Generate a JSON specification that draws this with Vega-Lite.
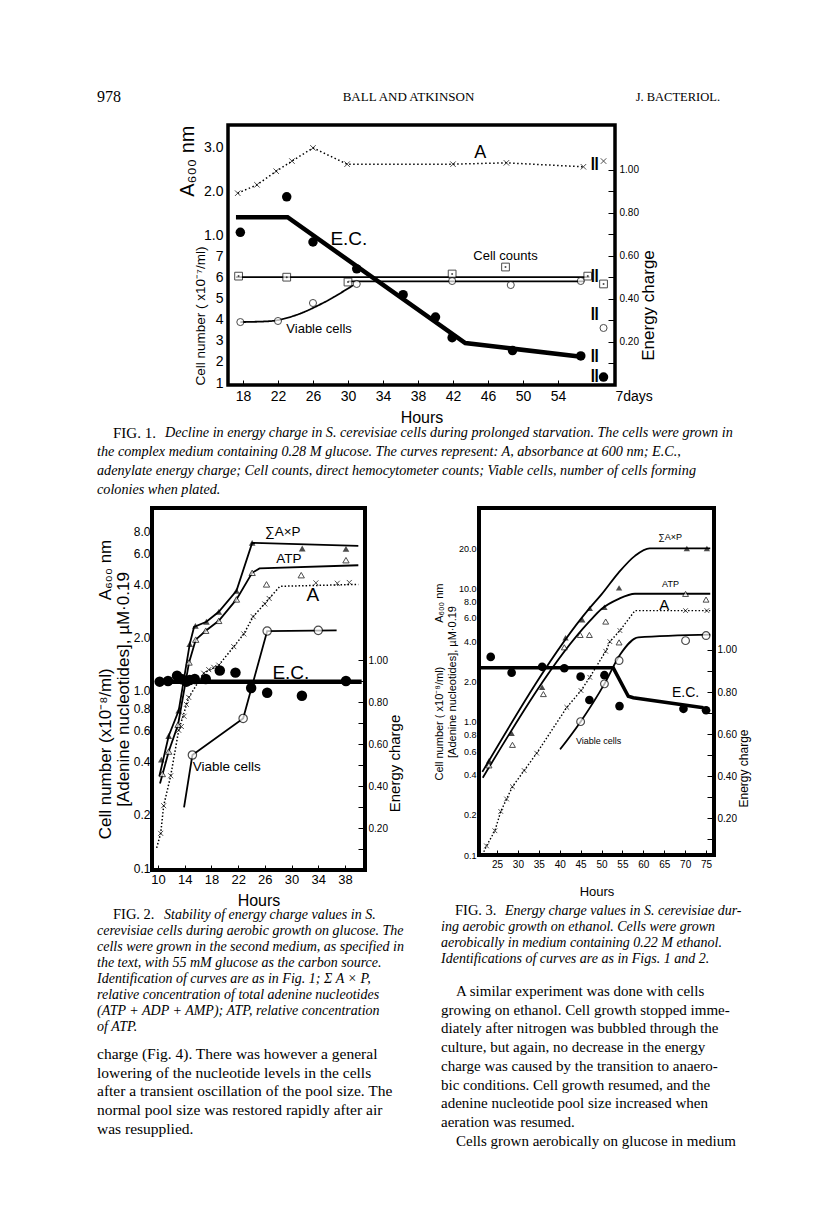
{
"$schema":"https://vega.github.io/schema/vega-lite/v6.json",
"background":"white",
"padding":{"left":94,"top":88,"right":10,"bottom":10},
"config":{"view":{"stroke":null},"font":"Liberation Sans","text":{"color":"black"},
 "axis":{"labelColor":"black","titleColor":"black","tickColor":"black","labelFont":"Liberation Sans","titleFont":"Liberation Sans","titleFontWeight":"normal","grid":false,"domain":false}},
"datasets":{
"header":[{"part":"left","line":0,"text":"978"},{"part":"center","line":0,"text":"BALL AND ATKINSON"},{"part":"right","line":0,"text":"J. BACTERIOL."}],
"cap1":[{"line":0,"kind":"fig","text":"FIG. 1."},{"line":0,"kind":"capfirst","text":"Decline in energy charge in S. cerevisiae cells during prolonged starvation. The cells were grown in"},{"line":1,"kind":"cap","text":"the complex medium containing 0.28 M glucose. The curves represent: A, absorbance at 600 nm; E.C.,"},{"line":2,"kind":"cap","text":"adenylate energy charge; Cell counts, direct hemocytometer counts; Viable cells, number of cells forming"},{"line":3,"kind":"cap","text":"colonies when plated."}],
"capL":[{"line":0,"kind":"fig","text":"FIG. 2."},{"line":0,"kind":"capfirst","text":"Stability of energy charge values in S."},{"line":1,"kind":"cap","text":"cerevisiae cells during aerobic growth on glucose. The"},{"line":2,"kind":"cap","text":"cells were grown in the second medium, as specified in"},{"line":3,"kind":"cap","text":"the text, with 55 mM glucose as the carbon source."},{"line":4,"kind":"cap","text":"Identification of curves are as in Fig. 1; Σ A × P,"},{"line":5,"kind":"cap","text":"relative concentration of total adenine nucleotides"},{"line":6,"kind":"cap","text":"(ATP + ADP + AMP); ATP, relative concentration"},{"line":7,"kind":"cap","text":"of ATP."}],
"bodyL":[{"line":0,"kind":"body","text":"charge (Fig. 4). There was however a general"},{"line":1,"kind":"body","text":"lowering of the nucleotide levels in the cells"},{"line":2,"kind":"body","text":"after a transient oscillation of the pool size. The"},{"line":3,"kind":"body","text":"normal pool size was restored rapidly after air"},{"line":4,"kind":"body","text":"was resupplied."}],
"capR":[{"line":0,"kind":"fig","text":"FIG. 3."},{"line":0,"kind":"capfirst","text":"Energy charge values in S. cerevisiae dur-"},{"line":1,"kind":"cap","text":"ing aerobic growth on ethanol. Cells were grown"},{"line":2,"kind":"cap","text":"aerobically in medium containing 0.22 M ethanol."},{"line":3,"kind":"cap","text":"Identifications of curves are as in Figs. 1 and 2."}],
"bodyR":[{"line":0,"kind":"indent","text":"A similar experiment was done with cells"},{"line":1,"kind":"body","text":"growing on ethanol. Cell growth stopped imme-"},{"line":2,"kind":"body","text":"diately after nitrogen was bubbled through the"},{"line":3,"kind":"body","text":"culture, but again, no decrease in the energy"},{"line":4,"kind":"body","text":"charge was caused by the transition to anaero-"},{"line":5,"kind":"body","text":"bic conditions. Cell growth resumed, and the"},{"line":6,"kind":"body","text":"adenine nucleotide pool size increased when"},{"line":7,"kind":"body","text":"aeration was resumed."},{"line":8,"kind":"indent","text":"Cells grown aerobically on glucose in medium"}],
"f1":[
{"series":"A","hour":17.4,"value":1.95},{"series":"A","hour":19.6,"value":2.14},{"series":"A","hour":21.8,"value":2.45},{"series":"A","hour":23.6,"value":2.68},{"series":"A","hour":26.0,"value":2.98},{"series":"A","hour":29.9,"value":2.61},{"series":"A","hour":42.0,"value":2.61},{"series":"A","hour":48.1,"value":2.64},{"series":"A","hour":56.9,"value":2.55},{"series":"A","hour":59.2,"value":2.68},
{"series":"EC","hour":17.7,"value":0.71},{"series":"EC","hour":23.0,"value":0.875},{"series":"EC","hour":26.0,"value":0.665},{"series":"EC","hour":31.0,"value":0.54},{"series":"EC","hour":36.3,"value":0.42},{"series":"EC","hour":40.0,"value":0.316},{"series":"EC","hour":41.9,"value":0.22},{"series":"EC","hour":48.8,"value":0.16},{"series":"EC","hour":56.6,"value":0.135},{"series":"EC","hour":59.2,"value":0.037},
{"series":"Cell counts","hour":17.5,"value":6.05},{"series":"Cell counts","hour":23.0,"value":6.0},{"series":"Cell counts","hour":30.0,"value":5.77},{"series":"Cell counts","hour":41.9,"value":6.15},{"series":"Cell counts","hour":48.0,"value":6.48},{"series":"Cell counts","hour":57.4,"value":6.05},{"series":"Cell counts","hour":59.2,"value":5.68},
{"series":"Viable cells","hour":17.7,"value":3.88},{"series":"Viable cells","hour":22.0,"value":3.93},{"series":"Viable cells","hour":26.0,"value":4.78},{"series":"Viable cells","hour":31.0,"value":5.68},{"series":"Viable cells","hour":41.9,"value":5.82},{"series":"Viable cells","hour":48.6,"value":5.63},{"series":"Viable cells","hour":56.6,"value":5.82},{"series":"Viable cells","hour":59.2,"value":3.6}],
"f1fit":[
{"series":"EC","seg":1,"hour":17.2,"value":0.78},{"series":"EC","seg":1,"hour":23.1,"value":0.78},{"series":"EC","seg":1,"hour":43.4,"value":0.195},{"series":"EC","seg":1,"hour":56.9,"value":0.13},
{"series":"Cell counts","seg":1,"hour":17.2,"value":6.0},{"series":"Cell counts","seg":1,"hour":57.6,"value":6.0},
{"series":"Viable cells","seg":1,"hour":17.7,"value":3.88},{"series":"Viable cells","seg":1,"hour":21.0,"value":3.92},{"series":"Viable cells","seg":1,"hour":24.0,"value":4.2},{"series":"Viable cells","seg":1,"hour":27.0,"value":4.75},{"series":"Viable cells","seg":1,"hour":30.6,"value":5.62},
{"series":"Viable cells","seg":2,"hour":30.0,"value":5.8},{"series":"Viable cells","seg":2,"hour":57.0,"value":5.8}],
"f1lab":[{"scale":"A","text":"A","hour":45.1,"value":2.86},{"scale":"EC","text":"E.C.","hour":30.1,"value":0.68},{"scale":"cell","text":"Cell counts","hour":48.0,"value":7.0},{"scale":"cell","text":"Viable cells","hour":26.7,"value":3.55}],
"f1brk":[{"scale":"A","text":"‖","hour":58.2,"value":2.6},{"scale":"cell","text":"‖","hour":58.2,"value":6.0},{"scale":"cell","text":"‖","hour":58.2,"value":4.2},{"scale":"EC","text":"‖","hour":58.2,"value":0.13},{"scale":"EC","text":"‖","hour":58.2,"value":0.035}],
"f2":[
{"series":"SumAxP","hour":10.5,"value":0.41},{"series":"SumAxP","hour":11.6,"value":0.557},{"series":"SumAxP","hour":13.1,"value":0.775},{"series":"SumAxP","hour":14.75,"value":1.84},{"series":"SumAxP","hour":15.6,"value":2.33},{"series":"SumAxP","hour":17.25,"value":2.46},{"series":"SumAxP","hour":19.1,"value":2.8},{"series":"SumAxP","hour":21.75,"value":3.68},{"series":"SumAxP","hour":24.1,"value":6.86},{"series":"SumAxP","hour":31.6,"value":6.38},{"series":"SumAxP","hour":38.15,"value":6.35},
{"series":"ATP","hour":10.65,"value":0.34},{"series":"ATP","hour":11.6,"value":0.455},{"series":"ATP","hour":13.0,"value":0.645},{"series":"ATP","hour":14.65,"value":1.45},{"series":"ATP","hour":15.65,"value":1.95},{"series":"ATP","hour":17.15,"value":2.19},{"series":"ATP","hour":19.1,"value":2.49},{"series":"ATP","hour":21.75,"value":3.29},{"series":"ATP","hour":24.1,"value":4.65},{"series":"ATP","hour":26.25,"value":4.0},{"series":"ATP","hour":31.45,"value":4.51},{"series":"ATP","hour":38.15,"value":5.48},
{"series":"A","hour":10.4,"value":0.157},{"series":"A","hour":10.85,"value":0.225},{"series":"A","hour":11.9,"value":0.332},{"series":"A","hour":13.1,"value":0.6},{"series":"A","hour":13.5,"value":0.63},{"series":"A","hour":13.9,"value":0.72},{"series":"A","hour":14.25,"value":0.84},{"series":"A","hour":14.6,"value":0.92},{"series":"A","hour":16.85,"value":1.26},{"series":"A","hour":17.6,"value":1.32},{"series":"A","hour":18.35,"value":1.36},{"series":"A","hour":19.1,"value":1.4},{"series":"A","hour":21.35,"value":1.78},{"series":"A","hour":22.85,"value":2.1},{"series":"A","hour":24.25,"value":2.63},{"series":"A","hour":26.0,"value":3.1},{"series":"A","hour":26.65,"value":3.33},{"series":"A","hour":33.65,"value":4.08},{"series":"A","hour":36.85,"value":4.06},{"series":"A","hour":38.65,"value":4.1},
{"series":"Viable","hour":15.15,"value":0.435},{"series":"Viable","hour":22.75,"value":0.7},{"series":"Viable","hour":26.35,"value":2.18},{"series":"Viable","hour":34.0,"value":2.2},
{"series":"EC","hour":10.25,"value":0.897},{"series":"EC","hour":11.5,"value":0.9},{"series":"EC","hour":12.85,"value":0.925},{"series":"EC","hour":13.65,"value":0.908},{"series":"EC","hour":14.25,"value":0.897},{"series":"EC","hour":14.75,"value":0.905},{"series":"EC","hour":15.5,"value":0.91},{"series":"EC","hour":17.15,"value":0.91},{"series":"EC","hour":19.25,"value":0.95},{"series":"EC","hour":21.6,"value":0.94},{"series":"EC","hour":23.95,"value":0.867},{"series":"EC","hour":26.35,"value":0.844},{"series":"EC","hour":31.55,"value":0.83},{"series":"EC","hour":38.15,"value":0.9}],
"f2fit":[
{"series":"SumAxP","hour":10.2,"value":0.33},{"series":"SumAxP","hour":11.6,"value":0.557},{"series":"SumAxP","hour":13.1,"value":0.775},{"series":"SumAxP","hour":14.75,"value":1.84},{"series":"SumAxP","hour":15.4,"value":2.3},{"series":"SumAxP","hour":17.25,"value":2.46},{"series":"SumAxP","hour":19.1,"value":2.8},{"series":"SumAxP","hour":21.75,"value":3.68},{"series":"SumAxP","hour":24.1,"value":6.86},{"series":"SumAxP","hour":40.0,"value":6.6},
{"series":"ATP","hour":10.3,"value":0.3},{"series":"ATP","hour":11.6,"value":0.455},{"series":"ATP","hour":13.0,"value":0.645},{"series":"ATP","hour":14.65,"value":1.45},{"series":"ATP","hour":15.65,"value":1.95},{"series":"ATP","hour":17.15,"value":2.19},{"series":"ATP","hour":19.1,"value":2.49},{"series":"ATP","hour":21.75,"value":3.29},{"series":"ATP","hour":24.1,"value":4.65},{"series":"ATP","hour":25.2,"value":4.92},{"series":"ATP","hour":40.0,"value":5.13},
{"series":"A","hour":9.8,"value":0.13},{"series":"A","hour":10.4,"value":0.157},{"series":"A","hour":10.85,"value":0.225},{"series":"A","hour":11.9,"value":0.332},{"series":"A","hour":13.1,"value":0.6},{"series":"A","hour":14.6,"value":0.92},{"series":"A","hour":16.85,"value":1.26},{"series":"A","hour":19.1,"value":1.4},{"series":"A","hour":21.35,"value":1.78},{"series":"A","hour":22.85,"value":2.1},{"series":"A","hour":24.25,"value":2.63},{"series":"A","hour":26.65,"value":3.33},{"series":"A","hour":28.25,"value":3.9},{"series":"A","hour":40.0,"value":4.0},
{"series":"Viable","hour":13.9,"value":0.22},{"series":"Viable","hour":15.15,"value":0.435},{"series":"Viable","hour":22.75,"value":0.7},{"series":"Viable","hour":26.35,"value":2.18},{"series":"Viable","hour":36.75,"value":2.2},
{"series":"EC","hour":9.75,"value":0.897},{"series":"EC","hour":40.5,"value":0.897}],
"f2lab":[{"scale":"log","text":"∑A×P","hour":28.7,"value":7.95},{"scale":"log","text":"ATP","hour":29.6,"value":5.55},{"scale":"log","text":"A","hour":33.2,"value":3.49},{"scale":"log","text":"Viable cells","hour":20.3,"value":0.374},{"scale":"EC","text":"E.C.","hour":29.9,"value":0.937}],
"f3":[
{"series":"SumAxP","hour":23.1,"value":0.51},{"series":"SumAxP","hour":28.5,"value":0.817},{"series":"SumAxP","hour":35.8,"value":1.81},{"series":"SumAxP","hour":41.4,"value":4.25},{"series":"SumAxP","hour":45.4,"value":5.82},{"series":"SumAxP","hour":47.2,"value":7.07},{"series":"SumAxP","hour":50.7,"value":7.2},{"series":"SumAxP","hour":54.2,"value":10.07},{"series":"SumAxP","hour":70.4,"value":19.9},{"series":"SumAxP","hour":75.2,"value":19.9},
{"series":"ATP","hour":23.1,"value":0.47},{"series":"ATP","hour":28.7,"value":0.67},{"series":"ATP","hour":36.1,"value":1.61},{"series":"ATP","hour":41.1,"value":3.61},{"series":"ATP","hour":44.9,"value":4.47},{"series":"ATP","hour":47.1,"value":4.47},{"series":"ATP","hour":51.0,"value":5.63},{"series":"ATP","hour":54.2,"value":3.93},{"series":"ATP","hour":70.1,"value":9.08},{"series":"ATP","hour":75.0,"value":8.23},
{"series":"A","hour":22.5,"value":0.117},{"series":"A","hour":24.5,"value":0.152},{"series":"A","hour":25.9,"value":0.212},{"series":"A","hour":27.3,"value":0.263},{"series":"A","hour":28.7,"value":0.325},{"series":"A","hour":31.5,"value":0.43},{"series":"A","hour":34.5,"value":0.58},{"series":"A","hour":41.7,"value":1.28},{"series":"A","hour":45.1,"value":1.71},{"series":"A","hour":47.2,"value":2.15},{"series":"A","hour":51.0,"value":3.37},{"series":"A","hour":52.0,"value":3.98},{"series":"A","hour":54.4,"value":4.82},{"series":"A","hour":70.1,"value":6.8},{"series":"A","hour":75.2,"value":6.8},
{"series":"Viable","hour":45.0,"value":1.0},{"series":"Viable","hour":50.7,"value":1.92},{"series":"Viable","hour":54.2,"value":2.87},{"series":"Viable","hour":70.1,"value":4.05},{"series":"Viable","hour":75.0,"value":4.42},
{"series":"EC","hour":23.5,"value":0.967},{"series":"EC","hour":28.5,"value":0.892},{"series":"EC","hour":35.8,"value":0.92},{"series":"EC","hour":41.1,"value":0.913},{"series":"EC","hour":45.0,"value":0.873},{"series":"EC","hour":47.1,"value":0.762},{"series":"EC","hour":50.7,"value":0.88},{"series":"EC","hour":54.3,"value":0.733},{"series":"EC","hour":69.6,"value":0.72},{"series":"EC","hour":75.0,"value":0.713}],
"f3fit":[
{"series":"SumAxP","hour":21.5,"value":0.42},{"series":"SumAxP","hour":47.0,"value":7.0},{"series":"SumAxP","hour":50.0,"value":9.0},{"series":"SumAxP","hour":54.0,"value":13.0},{"series":"SumAxP","hour":58.0,"value":17.5},{"series":"SumAxP","hour":61.5,"value":19.9},{"series":"SumAxP","hour":76.0,"value":19.9},
{"series":"ATP","hour":21.6,"value":0.38},{"series":"ATP","hour":47.0,"value":5.6},{"series":"ATP","hour":50.0,"value":7.0},{"series":"ATP","hour":54.0,"value":8.3},{"series":"ATP","hour":58.0,"value":9.1},{"series":"ATP","hour":76.0,"value":9.1},
{"series":"A","hour":21.5,"value":0.1},{"series":"A","hour":22.5,"value":0.117},{"series":"A","hour":24.5,"value":0.152},{"series":"A","hour":25.9,"value":0.212},{"series":"A","hour":27.3,"value":0.263},{"series":"A","hour":28.7,"value":0.325},{"series":"A","hour":31.5,"value":0.43},{"series":"A","hour":34.5,"value":0.58},{"series":"A","hour":41.7,"value":1.28},{"series":"A","hour":45.1,"value":1.71},{"series":"A","hour":47.2,"value":2.15},{"series":"A","hour":51.0,"value":3.37},{"series":"A","hour":52.0,"value":3.98},{"series":"A","hour":54.4,"value":4.82},{"series":"A","hour":58.0,"value":6.8},{"series":"A","hour":76.0,"value":6.8},
{"series":"Viable","hour":40.1,"value":0.62},{"series":"Viable","hour":45.0,"value":1.0},{"series":"Viable","hour":50.7,"value":1.92},{"series":"Viable","hour":54.5,"value":3.2},{"series":"Viable","hour":58.8,"value":4.29},{"series":"Viable","hour":76.0,"value":4.5},
{"series":"EC","hour":20.8,"value":0.915},{"series":"EC","hour":52.8,"value":0.915},{"series":"EC","hour":56.4,"value":0.78},{"series":"EC","hour":57.6,"value":0.773},{"series":"EC","hour":74.4,"value":0.725}],
"f3lab":[{"scale":"log","text":"∑A×P","hour":66.4,"value":24.1},{"scale":"log","text":"ATP","hour":66.5,"value":10.8},{"scale":"log","text":"A","hour":65.0,"value":7.55},{"scale":"log","text":"Viable cells","hour":49.3,"value":0.72},{"scale":"EC","text":"E.C.","hour":70.1,"value":0.794}]
},
"bounds":"flush",
"spacing":0,
"vconcat":[
{"width":623,"height":37,"data":{"name":"header"},
 "encoding":{"y":{"field":"line","type":"quantitative","scale":{"domain":[-0.5,1.556],"reverse":true,"nice":false,"zero":false},"axis":null},"text":{"field":"text"}},
 "layer":[
  {"transform":[{"filter":"datum.part == 'left'"}],"mark":{"type":"text","align":"left","baseline":"middle","font":"Liberation Serif","fontSize":16},"encoding":{"x":{"datum":0,"type":"quantitative","scale":{"domain":[0,1]},"axis":null}}},
  {"transform":[{"filter":"datum.part == 'center'"}],"mark":{"type":"text","align":"center","baseline":"middle","font":"Liberation Serif","fontSize":13},"encoding":{"x":{"datum":0.5,"type":"quantitative","scale":{"domain":[0,1]},"axis":null}}},
  {"transform":[{"filter":"datum.part == 'right'"}],"mark":{"type":"text","align":"right","baseline":"middle","font":"Liberation Serif","fontSize":12.5},"encoding":{"x":{"datum":1,"type":"quantitative","scale":{"domain":[0,1]},"axis":null}}}
 ]},
{"hconcat":[
 {"width":131,"height":260,"data":{"values":[{"k":1}]},"mark":{"type":"text"},"encoding":{"text":{"value":""}}},
 {"width":387,"height":260,"view":{"stroke":"black","strokeWidth":3.5},
  "encoding":{"x":{"field":"hour","type":"quantitative","scale":{"domain":[16.29,60.51],"nice":false,"zero":false},
    "axis":{"values":[18,22,26,30,34,38,42,46,50,54,60.5],"labelExpr":"datum.value > 58 ? '7days' : datum.label","labelAlign":{"condition":{"test":"datum.value > 58","value":"left"},"value":"center"},"title":"Hours","titleFontSize":16,"titlePadding":6,"labelFontSize":14,"tickSize":-5,"labelPadding":9}}},
  "layer":[
   {"encoding":{"y":{"field":"value","type":"quantitative","scale":{"domain":[-2.409,3.5],"nice":false,"zero":false},"axis":{"orient":"left","values":[1,2,3],"format":".1f","ticks":false,"labelPadding":5,"labelFontSize":14,"title":"A₆₀₀ nm","titleFontSize":20,"titleAnchor":"end","titlePadding":6}}},
    "layer":[
     {"data":{"name":"f1"},"transform":[{"filter":"datum.series == 'A' && datum.hour < 58"}],"mark":{"type":"line","color":"black","strokeWidth":1.5,"strokeDash":[1.5,2.5]},"encoding":{}},
     {"data":{"name":"f1"},"transform":[{"filter":"datum.series == 'A'"}],"mark":{"type":"point","shape":"M-1,-1L1,1M-1,1L1,-1","size":30,"color":"black","filled":false,"strokeWidth":1}},
     {"data":{"name":"f1lab"},"transform":[{"filter":"datum.scale == 'A'"}],"mark":{"type":"text","fontSize":18,"baseline":"middle"},"encoding":{"text":{"field":"text"}}},
     {"data":{"name":"f1brk"},"transform":[{"filter":"datum.scale == 'A'"}],"mark":{"type":"text","fontSize":18,"fontWeight":"bold","baseline":"middle"},"encoding":{"text":{"field":"text"}}}
    ]},
   {"encoding":{"y":{"field":"value","type":"quantitative","scale":{"domain":[0.906,13.19],"nice":false,"zero":false},"axis":{"orient":"left","values":[1,2,3,4,5,6,7],"format":"d","ticks":false,"labelPadding":5,"labelFontSize":14,"title":"Cell number ( x10⁻⁷/ml)","titleFontSize":13.5,"titleAnchor":"start","titlePadding":8}}},
    "layer":[
     {"data":{"name":"f1fit"},"transform":[{"filter":"datum.series == 'Cell counts' || datum.series == 'Viable cells'"}],"mark":{"type":"line","color":"black","strokeWidth":1.8,"interpolate":"monotone"},"encoding":{"detail":{"field":"series"},"strokeDash":{"field":"seg","legend":null,"scale":{"range":[[1,0],[1,0]]}}}},
     {"data":{"name":"f1"},"transform":[{"filter":"datum.series == 'Cell counts'"}],"mark":{"type":"point","shape":"square","size":60,"color":"black","filled":true,"fill":"white","stroke":"black","strokeWidth":1}},
     {"data":{"name":"f1"},"transform":[{"filter":"datum.series == 'Cell counts'"}],"mark":{"type":"point","shape":"circle","size":4,"color":"black","filled":true}},
     {"data":{"name":"f1"},"transform":[{"filter":"datum.series == 'Viable cells'"}],"mark":{"type":"point","shape":"circle","size":50,"color":"black","filled":true,"fill":"white","stroke":"black","strokeWidth":1}},
     {"data":{"name":"f1lab"},"transform":[{"filter":"datum.scale == 'cell'"}],"mark":{"type":"text","fontSize":13,"baseline":"middle"},"encoding":{"text":{"field":"text"}}},
     {"data":{"name":"f1brk"},"transform":[{"filter":"datum.scale == 'cell'"}],"mark":{"type":"text","fontSize":18,"fontWeight":"bold","baseline":"middle"},"encoding":{"text":{"field":"text"}}}
    ]},
   {"encoding":{"y":{"field":"value","type":"quantitative","scale":{"domain":[0,1.209],"nice":false,"zero":false},"axis":{"orient":"right","values":[0.1,0.2,0.3,0.4,0.5,0.6,0.7,0.8,0.9,1.0],"labelExpr":"round(datum.value*10) % 2 == 0 ? format(datum.value, '.2f') : ''","tickSize":-7,"labelPadding":11,"labelFontSize":10,"title":"Energy charge","titleFontSize":17,"titleAngle":270,"titleBaseline":"top","titleY":180,"titlePadding":2}}},
    "layer":[
     {"data":{"name":"f1fit"},"transform":[{"filter":"datum.series == 'EC'"}],"mark":{"type":"line","color":"black","strokeWidth":4.5},"encoding":{}},
     {"data":{"name":"f1"},"transform":[{"filter":"datum.series == 'EC'"}],"mark":{"type":"point","shape":"circle","size":90,"color":"black","filled":true,"opacity":1}},
     {"data":{"name":"f1lab"},"transform":[{"filter":"datum.scale == 'EC'"}],"mark":{"type":"text","fontSize":19,"baseline":"middle"},"encoding":{"text":{"field":"text"}}},
     {"data":{"name":"f1brk"},"transform":[{"filter":"datum.scale == 'EC'"}],"mark":{"type":"text","fontSize":18,"fontWeight":"bold","baseline":"middle"},"encoding":{"text":{"field":"text"}}}
    ]}
  ],
  "resolve":{"scale":{"y":"independent"},"axis":{"y":"independent"}}}
 ],"spacing":0,"bounds":"flush"},
{"width":1,"height":298.5,"data":{"values":[{"k":1}]},"mark":{"type":"text"},"encoding":{"text":{"value":""}}},
{"width":623,"height":83.5,"data":{"name":"cap1"},
 "encoding":{"x":{"datum":0,"type":"quantitative","scale":{"domain":[0,1]},"axis":null},"y":{"field":"line","type":"quantitative","scale":{"domain":[-0.5,3.895],"reverse":true,"nice":false,"zero":false},"axis":null},"text":{"field":"text"}},
 "layer":[
  {"transform":[{"filter":"datum.kind == 'fig'"}],"mark":{"type":"text","align":"left","baseline":"middle","font":"Liberation Serif","fontSize":15,"dx":16}},
  {"transform":[{"filter":"datum.kind == 'capfirst'"}],"mark":{"type":"text","align":"left","baseline":"middle","font":"Liberation Serif","fontStyle":"italic","fontSize":14.2,"dx":68}},
  {"transform":[{"filter":"datum.kind == 'cap'"}],"mark":{"type":"text","align":"left","baseline":"middle","font":"Liberation Serif","fontStyle":"italic","fontSize":14.2}}
 ]},
{"hconcat":[
 {"width":55,"height":362,"data":{"values":[{"k":1}]},"mark":{"type":"text"},"encoding":{"text":{"value":""}}},
 {"width":213,"height":362,"view":{"stroke":"black","strokeWidth":4},
  "encoding":{"x":{"field":"hour","type":"quantitative","scale":{"domain":[9.1,41.0],"nice":false,"zero":false},"axis":{"values":[10,14,18,22,26,30,34,38],"title":"Hours","titleFontSize":16,"titlePadding":6,"labelFontSize":13,"tickSize":-5,"labelPadding":8}}},
  "layer":[
   {"encoding":{"y":{"field":"value","type":"quantitative","scale":{"type":"log","domain":[0.0975,10.8],"nice":false},"axis":{"orient":"left","values":[0.1,0.2,0.4,0.6,0.8,1,2,4,6,8],"format":".1f","labelFontSize":12,"ticks":false,"labelPadding":2,"title":["Cell number (x10⁻⁸/ml)\u2003\u2003\u2003\u2003A₆₀₀ nm","[Adenine nucleotides], µM·0.19"],"titleFontSize":17,"titleLineHeight":18,"titlePadding":1}}},
    "layer":[
     {"data":{"name":"f2fit"},"transform":[{"filter":"datum.series == 'SumAxP' || datum.series == 'ATP' || datum.series == 'Viable'"}],"mark":{"type":"line","color":"black","strokeWidth":1.8},"encoding":{"detail":{"field":"series"}}},
     {"data":{"name":"f2fit"},"transform":[{"filter":"datum.series == 'A'"}],"mark":{"type":"line","color":"black","strokeWidth":1.5,"strokeDash":[1.5,2]},"encoding":{}},
     {"data":{"name":"f2"},"transform":[{"filter":"datum.series == 'SumAxP'"}],"mark":{"type":"point","shape":"triangle-up","size":45,"color":"black","filled":true}},
     {"data":{"name":"f2"},"transform":[{"filter":"datum.series == 'ATP'"}],"mark":{"type":"point","shape":"triangle-up","size":40,"color":"black","filled":true,"fill":"white","stroke":"black","strokeWidth":1}},
     {"data":{"name":"f2"},"transform":[{"filter":"datum.series == 'A'"}],"mark":{"type":"point","shape":"M-1,-1L1,1M-1,1L1,-1","size":25,"color":"black","filled":false,"strokeWidth":1}},
     {"data":{"name":"f2"},"transform":[{"filter":"datum.series == 'Viable'"}],"mark":{"type":"point","shape":"circle","size":70,"color":"black","filled":true,"fill":"white","stroke":"black","strokeWidth":1.2}},
     {"data":{"name":"f2lab"},"transform":[{"filter":"datum.scale == 'log' && datum.text == 'A'"}],"mark":{"type":"text","fontSize":19,"baseline":"middle"},"encoding":{"text":{"field":"text"}}},
     {"data":{"name":"f2lab"},"transform":[{"filter":"datum.scale == 'log' && datum.text != 'A'"}],"mark":{"type":"text","fontSize":13.5,"baseline":"middle"},"encoding":{"text":{"field":"text"}}}
    ]},
   {"encoding":{"y":{"field":"value","type":"quantitative","scale":{"domain":[0,1.724],"nice":false,"zero":false},"axis":{"orient":"right","values":[0.1,0.2,0.3,0.4,0.5,0.6,0.7,0.8,0.9,1.0],"labelExpr":"round(datum.value*10) % 2 == 0 ? format(datum.value, '.2f') : ''","tickSize":-7,"labelPadding":10,"labelFontSize":10,"title":"Energy charge","titleFontSize":15,"titleAngle":270,"titleBaseline":"top","titleY":255,"titlePadding":0}}},
    "layer":[
     {"data":{"name":"f2fit"},"transform":[{"filter":"datum.series == 'EC'"}],"mark":{"type":"line","color":"black","strokeWidth":4.5},"encoding":{}},
     {"data":{"name":"f2"},"transform":[{"filter":"datum.series == 'EC'"}],"mark":{"type":"point","shape":"circle","size":110,"color":"black","filled":true,"opacity":1}},
     {"data":{"name":"f2lab"},"transform":[{"filter":"datum.scale == 'EC'"}],"mark":{"type":"text","fontSize":19,"baseline":"middle"},"encoding":{"text":{"field":"text"}}}
    ]}
  ],
  "resolve":{"scale":{"y":"independent"},"axis":{"y":"independent"}}},
 {"width":114,"height":1,"data":{"values":[{"k":1}]},"mark":{"type":"text"},"encoding":{"text":{"value":""}}},
 {"width":235,"height":347,"view":{"stroke":"black","strokeWidth":4},
  "encoding":{"x":{"field":"hour","type":"quantitative","scale":{"domain":[20.7,76.9],"nice":false,"zero":false},"axis":{"values":[25,30,35,40,45,50,55,60,65,70,75],"title":"Hours","titleFontSize":13,"titlePadding":16,"labelFontSize":10,"tickSize":-5,"labelPadding":9}}},
  "layer":[
   {"encoding":{"y":{"field":"value","type":"quantitative","scale":{"type":"log","domain":[0.1,40],"nice":false},"axis":{"orient":"left","values":[0.1,0.2,0.4,0.6,0.8,1,2,4,6,8,10,20],"format":".1f","labelFontSize":9,"ticks":false,"labelPadding":3,"title":["Cell number ( x10⁻⁸/ml)\u2003\u2003\u2003\u2003A₆₀₀ nm","[Adenine nucleotides], µM·0.19"],"titleFontSize":11,"titleLineHeight":13,"titlePadding":1}}},
    "layer":[
     {"data":{"name":"f3fit"},"transform":[{"filter":"datum.series == 'SumAxP' || datum.series == 'ATP' || datum.series == 'Viable'"}],"mark":{"type":"line","color":"black","strokeWidth":1.8,"interpolate":"monotone"},"encoding":{"detail":{"field":"series"}}},
     {"data":{"name":"f3fit"},"transform":[{"filter":"datum.series == 'A'"}],"mark":{"type":"line","color":"black","strokeWidth":1.4,"strokeDash":[1.5,2]},"encoding":{}},
     {"data":{"name":"f3"},"transform":[{"filter":"datum.series == 'SumAxP'"}],"mark":{"type":"point","shape":"triangle-up","size":40,"color":"black","filled":true}},
     {"data":{"name":"f3"},"transform":[{"filter":"datum.series == 'ATP'"}],"mark":{"type":"point","shape":"triangle-up","size":35,"color":"black","filled":true,"fill":"white","stroke":"black","strokeWidth":1}},
     {"data":{"name":"f3"},"transform":[{"filter":"datum.series == 'A'"}],"mark":{"type":"point","shape":"M-1,-1L1,1M-1,1L1,-1","size":22,"color":"black","filled":false,"strokeWidth":1}},
     {"data":{"name":"f3"},"transform":[{"filter":"datum.series == 'Viable'"}],"mark":{"type":"point","shape":"circle","size":60,"color":"black","filled":true,"fill":"white","stroke":"black","strokeWidth":1.2}},
     {"data":{"name":"f3lab"},"transform":[{"filter":"datum.scale == 'log' && datum.text == 'A'"}],"mark":{"type":"text","fontSize":15,"baseline":"middle"},"encoding":{"text":{"field":"text"}}},
     {"data":{"name":"f3lab"},"transform":[{"filter":"datum.scale == 'log' && datum.text != 'A'"}],"mark":{"type":"text","fontSize":9,"baseline":"middle"},"encoding":{"text":{"field":"text"}}}
    ]},
   {"encoding":{"y":{"field":"value","type":"quantitative","scale":{"domain":[0.024,1.676],"nice":false,"zero":false},"axis":{"orient":"right","values":[0.1,0.2,0.3,0.4,0.5,0.6,0.7,0.8,0.9,1.0],"labelExpr":"round(datum.value*10) % 2 == 0 ? format(datum.value, '.2f') : ''","tickSize":-7,"labelPadding":10,"labelFontSize":10,"title":"Energy charge","titleFontSize":12,"titleAngle":270,"titleBaseline":"top","titleY":260,"titlePadding":2}}},
    "layer":[
     {"data":{"name":"f3fit"},"transform":[{"filter":"datum.series == 'EC'"}],"mark":{"type":"line","color":"black","strokeWidth":3.5},"encoding":{}},
     {"data":{"name":"f3"},"transform":[{"filter":"datum.series == 'EC'"}],"mark":{"type":"point","shape":"circle","size":75,"color":"black","filled":true,"opacity":1}},
     {"data":{"name":"f3lab"},"transform":[{"filter":"datum.scale == 'EC'"}],"mark":{"type":"text","fontSize":14,"baseline":"middle"},"encoding":{"text":{"field":"text"}}}
    ]}
  ],
  "resolve":{"scale":{"y":"independent"},"axis":{"y":"independent"}}}
 ],"spacing":0,"bounds":"flush"},
{"width":1,"height":394.9,"data":{"values":[{"k":1}]},"mark":{"type":"text"},"encoding":{"text":{"value":""}}},
{"hconcat":[
 {"width":303,"height":130,"data":{"name":"capL"},
  "encoding":{"x":{"datum":0,"type":"quantitative","scale":{"domain":[0,1]},"axis":null},"y":{"field":"line","type":"quantitative","scale":{"domain":[-0.756,7.369],"reverse":true,"nice":false,"zero":false},"axis":null},"text":{"field":"text"}},
  "layer":[
   {"transform":[{"filter":"datum.kind == 'fig'"}],"mark":{"type":"text","align":"left","baseline":"middle","font":"Liberation Serif","fontSize":14.5,"dx":16}},
   {"transform":[{"filter":"datum.kind == 'capfirst'"}],"mark":{"type":"text","align":"left","baseline":"middle","font":"Liberation Serif","fontStyle":"italic","fontSize":14,"dx":67}},
   {"transform":[{"filter":"datum.kind == 'cap'"}],"mark":{"type":"text","align":"left","baseline":"middle","font":"Liberation Serif","fontStyle":"italic","fontSize":14}}
  ]},
 {"width":41,"height":1,"data":{"values":[{"k":1}]},"mark":{"type":"text"},"encoding":{"text":{"value":""}}},
 {"width":279,"height":130,"data":{"name":"capR"},
  "encoding":{"x":{"datum":0,"type":"quantitative","scale":{"domain":[0,1]},"axis":null},"y":{"field":"line","type":"quantitative","scale":{"domain":[-0.506,7.619],"reverse":true,"nice":false,"zero":false},"axis":null},"text":{"field":"text"}},
  "layer":[
   {"transform":[{"filter":"datum.kind == 'fig'"}],"mark":{"type":"text","align":"left","baseline":"middle","font":"Liberation Serif","fontSize":14.5,"dx":14}},
   {"transform":[{"filter":"datum.kind == 'capfirst'"}],"mark":{"type":"text","align":"left","baseline":"middle","font":"Liberation Serif","fontStyle":"italic","fontSize":14,"dx":64}},
   {"transform":[{"filter":"datum.kind == 'cap'"}],"mark":{"type":"text","align":"left","baseline":"middle","font":"Liberation Serif","fontStyle":"italic","fontSize":14}}
  ]}
 ],"spacing":0,"bounds":"flush"},
{"width":1,"height":73.1,"data":{"values":[{"k":1}]},"mark":{"type":"text"},"encoding":{"text":{"value":""}}},
{"hconcat":[
 {"width":303,"height":180,"data":{"name":"bodyL"},
  "encoding":{"x":{"datum":0,"type":"quantitative","scale":{"domain":[0,1]},"axis":null},"y":{"field":"line","type":"quantitative","scale":{"domain":[-4.118,5.508],"reverse":true,"nice":false,"zero":false},"axis":null},"text":{"field":"text"}},
  "layer":[
   {"transform":[{"filter":"datum.kind == 'body'"}],"mark":{"type":"text","align":"left","baseline":"middle","font":"Liberation Serif","fontSize":15.5}}
  ]},
 {"width":41,"height":1,"data":{"values":[{"k":1}]},"mark":{"type":"text"},"encoding":{"text":{"value":""}}},
 {"width":279,"height":180,"data":{"name":"bodyR"},
  "encoding":{"x":{"datum":0,"type":"quantitative","scale":{"domain":[0,1]},"axis":null},"y":{"field":"line","type":"quantitative","scale":{"domain":[-0.749,8.877],"reverse":true,"nice":false,"zero":false},"axis":null},"text":{"field":"text"}},
  "layer":[
   {"transform":[{"filter":"datum.kind == 'body'"}],"mark":{"type":"text","align":"left","baseline":"middle","font":"Liberation Serif","fontSize":15}},
   {"transform":[{"filter":"datum.kind == 'indent'"}],"mark":{"type":"text","align":"left","baseline":"middle","font":"Liberation Serif","fontSize":15,"dx":15}}
  ]}
 ],"spacing":0,"bounds":"flush"}
]
}
